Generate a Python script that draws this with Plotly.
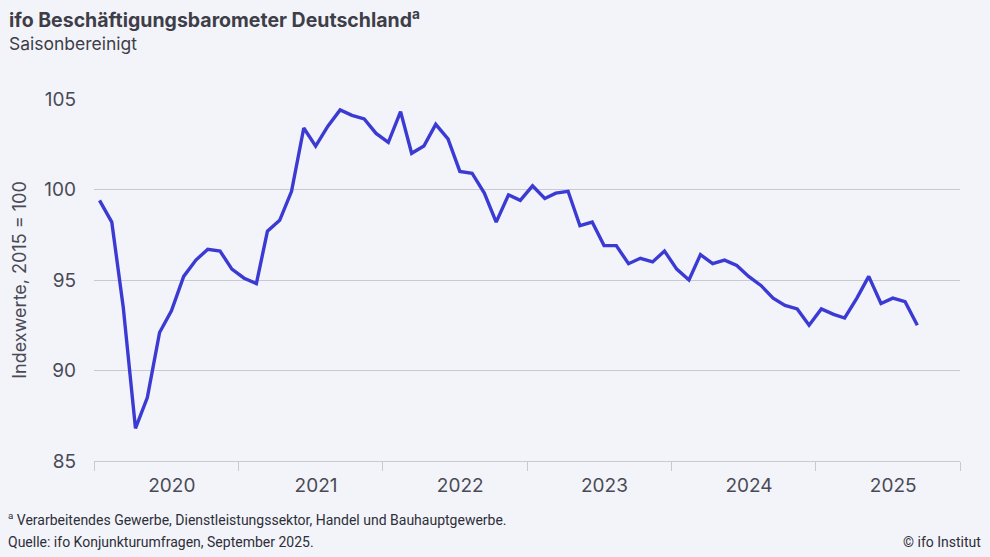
import plotly.graph_objects as go
import pandas as pd

values = [
    99.4, 98.2, 93.5, 86.8, 88.5, 92.1, 93.3, 95.2, 96.1, 96.7, 96.6, 95.6,
    95.1, 94.8, 97.7, 98.3, 99.9, 103.4, 102.4, 103.5, 104.4, 104.1, 103.9, 103.1,
    102.6, 104.3, 102.0, 102.4, 103.6, 102.8, 101.0, 100.9, 99.8, 98.2, 99.7, 99.4,
    100.2, 99.5, 99.8, 99.9, 98.0, 98.2, 96.9, 96.9, 95.9, 96.2, 96.0, 96.6,
    95.6, 95.0, 96.4, 95.9, 96.1, 95.8, 95.2, 94.7, 94.0, 93.6, 93.4, 92.5,
    93.4, 93.1, 92.9, 94.0, 95.2, 93.7, 94.0, 93.8, 92.5,
]
dates = pd.date_range("2020-01-01", periods=len(values), freq="MS") + pd.Timedelta(days=14)

years = [2020, 2021, 2022, 2023, 2024, 2025]
year_label_pos = [f"{y}-07-16" for y in years]
year_labels = [str(y) for y in years]
y_ticks = [85, 90, 95, 100, 105]

title = "ifo Beschäftigungsbarometer Deutschland<sup>a</sup>"
subtitle = "Saisonbereinigt"
y_title = "Indexwerte, 2015 = 100"
footnote = "<sup>a</sup> Verarbeitendes Gewerbe, Dienstleistungssektor, Handel und Bauhauptgewerbe."
source = "Quelle: ifo Konjunkturumfragen, September 2025."
credit = "© ifo Institut"

bg = "#F3F4FA"
line_color = "#3B3BD4"
text_color = "#4A4A55"
grid_color = "#C9C9D2"

W, H = 990, 557
L, R, T, B = 94, 30, 99, 96
PW, PH = W - L - R, H - T - B

fig = go.Figure()
fig.add_trace(go.Scatter(
    x=dates, y=values, mode="lines",
    line=dict(color=line_color, width=3.4),
    hoverinfo="skip",
))

fig.update_layout(
    width=W, height=H,
    paper_bgcolor=bg, plot_bgcolor=bg,
    margin=dict(l=L, r=R, t=T, b=B),
    showlegend=False,
    font=dict(family="Inter, Roboto, sans-serif", color=text_color),
)

fig.update_xaxes(
    type="date",
    range=["2020-01-01", "2026-01-01"],
    tickvals=year_label_pos, ticktext=year_labels,
    ticks="", ticklabelstandoff=7,
    minor=dict(tick0="2020-01-01", dtick="M12", ticks="outside", ticklen=9,
               tickcolor=grid_color, tickwidth=1, showgrid=False),
    showline=True, linecolor=grid_color, linewidth=1,
    showgrid=False, zeroline=False,
    tickfont=dict(size=19, color=text_color),
)
fig.update_yaxes(
    range=[85, 105],
    tickvals=y_ticks,
    showgrid=True, gridcolor=grid_color, gridwidth=1,
    zeroline=False, showline=False,
    ticks="", ticklabelstandoff=17,
    tickfont=dict(size=19, color=text_color),
    title=dict(text=y_title, font=dict(size=18, color=text_color), standoff=12),
)

sans = "Inter, Roboto, sans-serif"
annots = [
    dict(text="<b>" + title + "</b>", x=7, y=4, size=19.5, color="#3E3E48", xanchor="left", fam=sans),
    dict(text=subtitle, x=7, y=31, size=17.5, color="#3E3E48", xanchor="left", fam=sans),
    dict(text=footnote, x=6, y=508, size=14, color="#2E2E38", xanchor="left", fam="Roboto, sans-serif"),
    dict(text=source, x=6, y=532, size=14, color="#2E2E38", xanchor="left", fam="Roboto, sans-serif"),
    dict(text=credit, x=983, y=532, size=14, color="#2E2E38", xanchor="right", fam="Roboto, sans-serif"),
]
for a in annots:
    fig.add_annotation(
        text=a["text"], xref="paper", yref="paper",
        x=(a["x"] - L) / PW,
        y=1 - (a["y"] - T) / PH,
        xanchor=a["xanchor"], yanchor="top", showarrow=False,
        font=dict(size=a["size"], color=a["color"], family=a["fam"]),
    )

fig.write_html(
    "out.html",
    config={"displayModeBar": False},
    post_script="document.body.style.margin='0';document.body.style.background='%s';" % bg,
)
